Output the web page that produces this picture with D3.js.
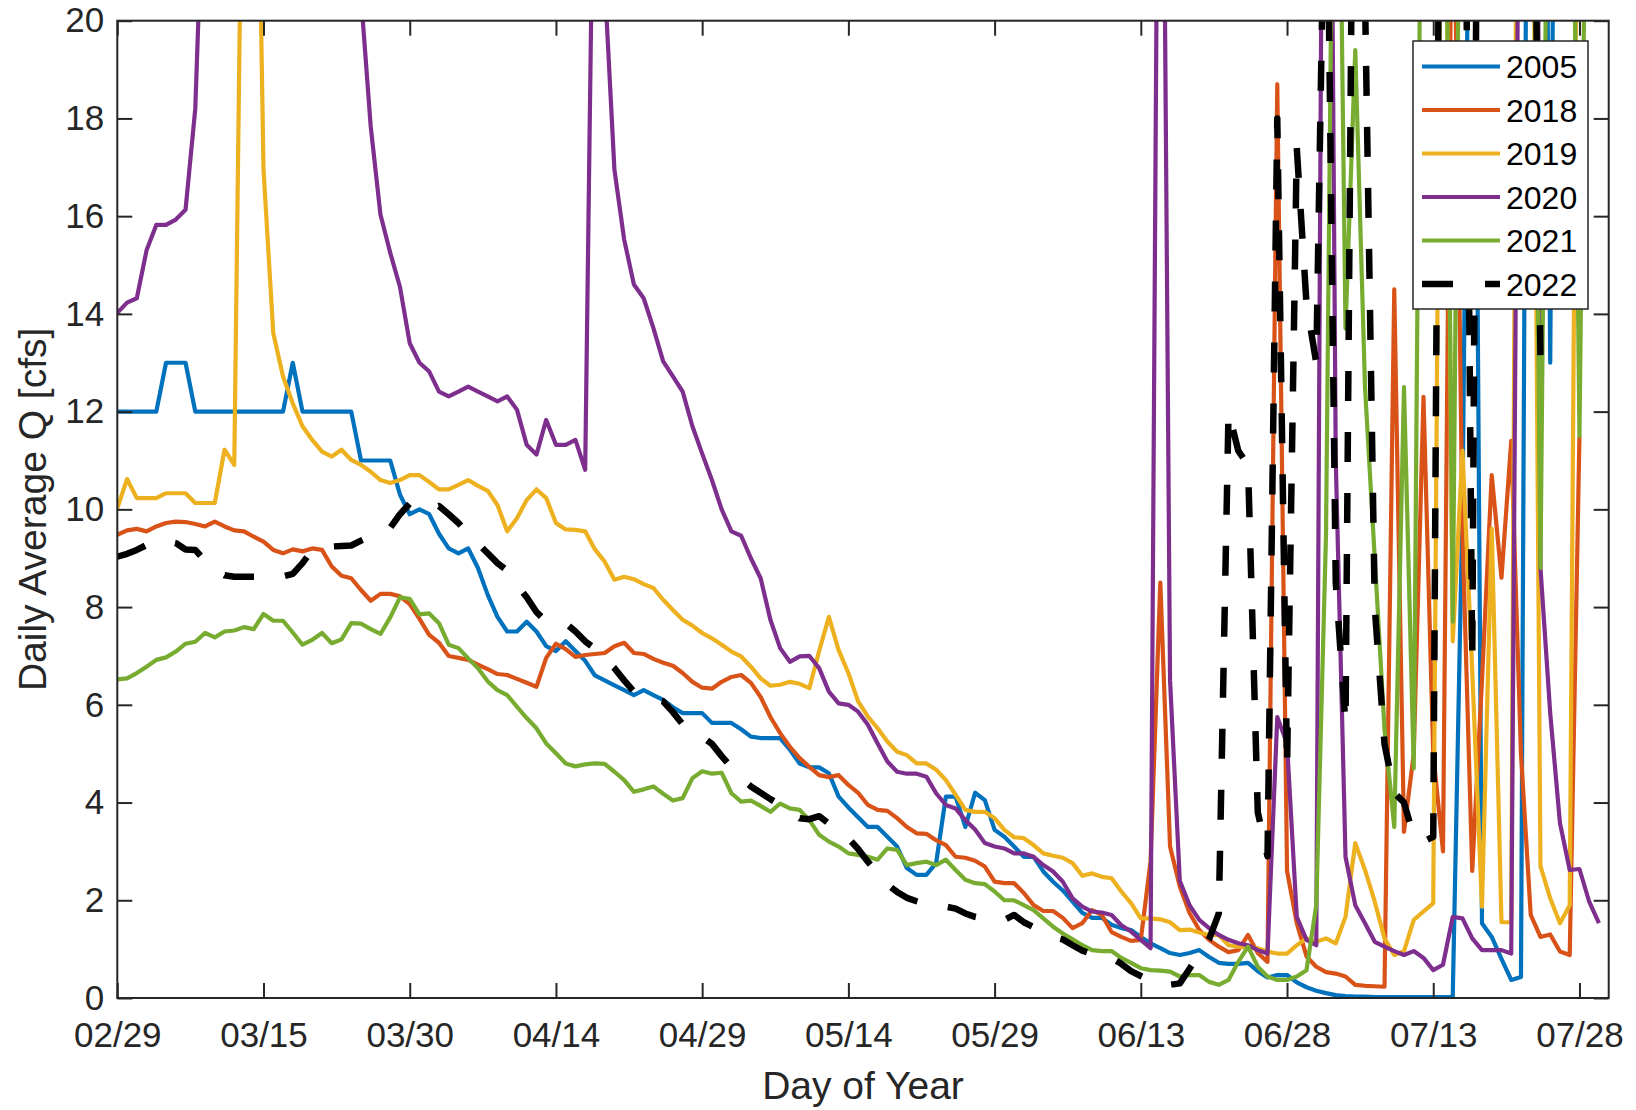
<!DOCTYPE html>
<html>
<head>
<meta charset="utf-8">
<script src="https://cdn.jsdelivr.net/npm/d3@7"></script>
<style>
body { margin: 0; background: #fff; }
text { font-family: "Liberation Sans", Arial, Helvetica, sans-serif; fill: #262626; }
</style>
</head>
<body>
<svg id="chart"></svg>
<script>
// chart data, one value per day starting 02/29
var xTickDays = [0, 15, 30, 45, 60, 75, 90, 105, 120, 135, 150];
var xTickLabels = ["02/29", "03/15", "03/30", "04/14", "04/29", "05/14", "05/29", "06/13", "06/28", "07/13", "07/28"];
var yTicks = [0, 2, 4, 6, 8, 10, 12, 14, 16, 18, 20];
var years = ["2005", "2018", "2019", "2020", "2021", "2022"];

var q2005 = [12,12,12,12,12,13,13,13,12,12,
	12,12,12,12,12,12,12,12,13,12,
	12,12,12,12,12,11,11,11,11,10.3,
	9.9,10.0,9.9,9.5,9.2,9.1,9.2,8.8,8.25,7.8,
	7.5,7.5,7.7,7.5,7.2,7.1,7.3,7.1,6.9,6.6,
	6.5,6.4,6.3,6.2,6.3,6.2,6.1,5.95,5.83,5.83,
	5.83,5.63,5.63,5.63,5.5,5.35,5.32,5.32,5.32,5.08,
	4.8,4.72,4.72,4.6,4.12,3.9,3.7,3.5,3.5,3.3,
	3.1,2.66,2.52,2.52,2.76,4.12,4.12,3.5,4.2,4.05,
	3.44,3.3,3.1,2.89,2.89,2.59,2.38,2.2,1.97,1.74,
	1.64,1.64,1.5,1.43,1.39,1.25,1.12,1.02,0.92,0.88,
	0.92,0.98,0.84,0.72,0.7,0.7,0.72,0.55,0.42,0.47,
	0.47,0.32,0.22,0.15,0.1,0.06,0.04,0.03,0.03,0.02,
	0.02,0.02,0.02,0.02,0.02,0.02,0.02,0.02,10,30,
	1.53,1.25,0.8,0.37,0.43,40,40,13,40,40,
	40,40,40];

var q2018 = [9.48,9.57,9.6,9.55,9.65,9.72,9.75,9.74,9.7,9.65,
	9.75,9.65,9.57,9.55,9.44,9.34,9.17,9.1,9.18,9.14,
	9.2,9.17,8.83,8.64,8.59,8.35,8.13,8.27,8.27,8.22,
	8.06,7.76,7.43,7.27,7.0,6.96,6.92,6.82,6.73,6.63,
	6.61,6.53,6.45,6.37,6.96,7.25,7.14,6.98,7.02,7.04,
	7.06,7.2,7.27,7.06,7.04,6.94,6.86,6.8,6.65,6.47,
	6.35,6.33,6.47,6.57,6.61,6.45,6.16,5.75,5.42,5.14,
	4.91,4.73,4.56,4.52,4.56,4.36,4.2,3.95,3.85,3.83,
	3.68,3.5,3.37,3.36,3.23,3.13,2.89,2.87,2.81,2.69,
	2.38,2.35,2.35,2.15,1.9,1.78,1.78,1.64,1.43,1.53,
	1.8,1.7,1.35,1.25,1.17,1.19,2.8,8.5,3.1,2.28,
	1.74,1.39,1.19,1.05,0.94,0.98,1.29,0.92,0.74,18.7,
	2.6,1.53,0.85,0.64,0.53,0.5,0.44,0.27,0.25,0.24,
	0.23,14.5,3.4,5.0,12.3,5.0,3.0,25,9.5,2.6,
	6.5,10.7,8.6,11.4,5.0,1.7,1.25,1.3,0.95,0.88,
	11.5];

var q2019 = [10.02,10.62,10.23,10.23,10.23,10.33,10.33,10.33,10.13,10.13,
	10.13,11.22,10.91,27,29,16.95,13.61,12.72,12.17,11.7,
	11.42,11.18,11.08,11.22,11.01,10.91,10.77,10.6,10.54,10.6,
	10.7,10.7,10.56,10.41,10.41,10.5,10.6,10.48,10.38,10.09,
	9.55,9.82,10.19,10.41,10.23,9.72,9.59,9.58,9.55,9.18,
	8.93,8.56,8.62,8.57,8.47,8.39,8.15,7.94,7.74,7.62,
	7.47,7.36,7.23,7.09,6.99,6.78,6.54,6.39,6.41,6.47,
	6.43,6.34,7.1,7.8,7.12,6.65,6.07,5.76,5.52,5.25,
	5.04,4.97,4.8,4.8,4.67,4.46,4.16,3.85,3.81,3.81,
	3.68,3.44,3.29,3.27,3.13,2.96,2.91,2.87,2.76,2.5,
	2.55,2.48,2.45,2.18,1.94,1.63,1.63,1.61,1.55,1.39,
	1.4,1.34,1.29,1.29,1.08,1.05,1.03,1.02,0.95,0.91,
	0.91,1.08,1.22,1.15,1.22,1.12,1.66,3.17,2.62,1.97,
	1.22,0.88,0.96,1.6,1.77,1.94,30,7.3,11.2,6.7,
	1.87,9.6,1.55,1.55,40,30,2.7,2.04,1.53,1.9,
	30];

var q2020 = [14.02,14.23,14.32,15.3,15.82,15.82,15.93,16.13,18.2,24,
	30,30,30,30,30,30,30,30,30,30,
	30,30,30,30,30,20.5,17.83,16.03,15.25,14.55,
	13.4,13.0,12.82,12.41,12.31,12.41,12.51,12.41,12.31,12.21,
	12.31,12.04,11.32,11.12,11.83,11.32,11.32,11.42,10.81,26,
	20.8,16.95,15.52,14.6,14.32,13.71,13.03,12.72,12.41,11.7,
	11.14,10.6,10.0,9.55,9.46,9.0,8.59,7.74,7.16,6.88,
	6.99,7.0,6.75,6.27,6.03,6.0,5.86,5.59,5.21,4.84,
	4.63,4.59,4.59,4.53,4.19,3.95,3.88,3.64,3.45,3.17,
	3.1,3.06,2.96,2.96,2.89,2.72,2.59,2.38,2.04,1.87,
	1.77,1.75,1.7,1.49,1.36,1.19,1.02,32.7,6.5,2.4,
	1.9,1.6,1.43,1.29,1.19,1.12,1.08,0.98,0.91,5.75,
	5.21,1.66,1.19,1.08,39,11,2.89,1.9,1.53,1.15,
	1.05,0.96,0.88,0.96,0.82,0.57,0.68,1.66,1.63,1.22,
	0.98,0.98,0.98,0.91,30,60,8.8,5.83,3.58,2.62,
	2.64,1.97,1.53];

var q2021 = [6.52,6.54,6.65,6.78,6.92,6.97,7.09,7.25,7.29,7.47,
	7.38,7.5,7.52,7.59,7.55,7.86,7.72,7.72,7.48,7.23,
	7.33,7.47,7.26,7.34,7.67,7.66,7.55,7.45,7.79,8.2,
	8.17,7.85,7.87,7.67,7.23,7.16,6.95,6.75,6.48,6.3,
	6.2,5.96,5.73,5.52,5.21,5.01,4.8,4.74,4.78,4.8,
	4.79,4.63,4.46,4.22,4.27,4.33,4.18,4.04,4.09,4.5,
	4.64,4.59,4.61,4.19,4.02,4.04,3.93,3.81,3.98,3.88,
	3.85,3.64,3.34,3.2,3.1,2.96,2.93,2.89,2.83,3.06,
	3.03,2.72,2.76,2.79,2.72,2.83,2.62,2.42,2.35,2.33,
	2.18,2.0,2.0,1.9,1.8,1.63,1.46,1.32,1.2,1.08,
	0.98,0.96,0.96,0.82,0.72,0.61,0.57,0.56,0.54,0.44,
	0.47,0.47,0.33,0.27,0.37,0.74,1.05,0.64,0.44,0.37,
	0.37,0.44,0.57,1.9,9.5,30,13.7,19.4,12.5,9.0,
	5.5,3.5,12.5,4.7,30,30,30,7.7,30,30,
	30,30,30,30,30,30,8.8,30,30,30,
	11.5,30,30];

var q2022 = [9.03,9.09,9.17,9.27,9.35,9.35,9.31,9.18,9.17,8.95,
	8.75,8.65,8.62,8.62,8.62,8.62,8.62,8.63,8.68,8.9,
	9.17,9.22,9.24,9.25,9.26,9.36,9.45,9.55,9.62,9.9,
	10.12,10.1,10.0,10.07,9.9,9.72,9.5,9.3,9.1,8.9,
	8.75,8.45,8.2,7.9,7.7,7.68,7.67,7.5,7.3,7.15,
	6.95,6.75,6.5,6.27,6.2,6.12,6.07,5.85,5.6,5.45,
	5.35,5.2,4.95,4.72,4.5,4.33,4.2,4.07,3.95,3.83,
	3.68,3.66,3.72,3.57,3.42,3.27,3.05,2.79,2.55,2.32,
	2.17,2.05,1.98,1.92,1.88,1.87,1.83,1.73,1.66,1.62,
	1.6,1.6,1.7,1.55,1.45,1.35,1.25,1.2,1.08,0.97,
	0.9,0.86,0.82,0.7,0.55,0.45,0.35,0.27,0.27,0.3,
	0.6,0.9,1.2,1.73,12.0,11.2,10.9,3.8,2.9,18.0,
	4.7,17.4,14.2,13.0,25,8.5,5.6,30,20.5,8.0,
	5.2,4.2,4.0,3.3,3.2,3.3,35,22,30,6.9,
	40,30,30,30,30,30,13.1];

var seriesList = [q2005, q2018, q2019, q2020, q2021, q2022];
var colors = ["#0072BD", "#D95319", "#EDB120", "#7E2F8E", "#77AC30", "#000000"];

// canvas config
var width = 1636, height = 1110;
var plot = {left: 117.3, right: 1608.7, top: 20.7, bottom: 998};
var axisColor = "#262626";
var tickSize = 15;

var svg = d3.select("#chart")
	.attr("width", width)
	.attr("height", height);

var xScale = d3.scaleLinear().domain([0, 153]).range([plot.left, plot.right]);
var yScale = d3.scaleLinear().domain([0, 20]).range([plot.bottom, plot.top]);

svg.append("defs").append("clipPath")
	.attr("id", "plotClip")
	.append("rect")
	.attr("x", plot.left)
	.attr("y", plot.top)
	.attr("width", plot.right - plot.left)
	.attr("height", plot.bottom - plot.top);

//lines
var lineFunc = d3.line()
	.x(function(d, i) { return xScale(i); })
	.y(function(d) { return yScale(d); });

var lines = svg.append("g").attr("clip-path", "url(#plotClip)");
seriesList.forEach(function(values, k) {
	lines.append("path")
		.attr("d", lineFunc(values))
		.attr("fill", "none")
		.attr("stroke", colors[k])
		.attr("stroke-width", k == 5 ? 6.5 : 4.2)
		.attr("stroke-linejoin", "round")
		.attr("stroke-dasharray", k == 5 ? "30,31" : null);
});

//axes: ticks inside on all four sides (box on)
var xAxisB = d3.axisBottom(xScale).tickValues(xTickDays)
	.tickFormat(function(d, i) { return xTickLabels[i]; })
	.tickSizeInner(-tickSize).tickSizeOuter(0).tickPadding(24);
var xAxisT = d3.axisTop(xScale).tickValues(xTickDays).tickFormat("")
	.tickSizeInner(-tickSize).tickSizeOuter(0);
var yAxisL = d3.axisLeft(yScale).tickValues(yTicks)
	.tickSizeInner(-tickSize).tickSizeOuter(0).tickPadding(13);
var yAxisR = d3.axisRight(yScale).tickValues(yTicks).tickFormat("")
	.tickSizeInner(-tickSize).tickSizeOuter(0);

function styleAxis(g) {
	g.select(".domain").remove();
	g.selectAll(".tick line").attr("stroke", axisColor).attr("stroke-width", 2);
	g.selectAll(".tick text")
		.attr("fill", axisColor)
		.style("font-size", "35px")
		.style("font-family", "'Liberation Sans', Arial, Helvetica, sans-serif");
}

svg.append("g").attr("transform", "translate(0," + plot.bottom + ")").call(xAxisB).call(styleAxis);
svg.append("g").attr("transform", "translate(0," + plot.top + ")").call(xAxisT).call(styleAxis);
svg.append("g").attr("transform", "translate(" + plot.left + ",0)").call(yAxisL).call(styleAxis);
svg.append("g").attr("transform", "translate(" + plot.right + ",0)").call(yAxisR).call(styleAxis);

svg.append("rect")
	.attr("x", plot.left)
	.attr("y", plot.top)
	.attr("width", plot.right - plot.left)
	.attr("height", plot.bottom - plot.top)
	.attr("fill", "none")
	.attr("stroke", axisColor)
	.attr("stroke-width", 2);

//axis labels
svg.append("text")
	.attr("x", (plot.left + plot.right) / 2)
	.attr("y", 1099)
	.attr("text-anchor", "middle")
	.style("font-size", "39px")
	.text("Day of Year");

svg.append("text")
	.attr("transform", "translate(45.5," + ((plot.top + plot.bottom) / 2) + ") rotate(-90)")
	.attr("text-anchor", "middle")
	.style("font-size", "39px")
	.text("Daily Average Q [cfs]");

//legend
var legend = svg.append("g");
legend.append("rect")
	.attr("x", 1413)
	.attr("y", 41)
	.attr("width", 175)
	.attr("height", 268)
	.attr("fill", "#fff")
	.attr("stroke", axisColor)
	.attr("stroke-width", 1.5);

years.forEach(function(name, k) {
	var cy = 66.5 + k * 43.5;
	legend.append("line")
		.attr("x1", 1422).attr("x2", 1500)
		.attr("y1", cy).attr("y2", cy)
		.attr("stroke", colors[k])
		.attr("stroke-width", k == 5 ? 6.5 : 4.2)
		.attr("stroke-dasharray", k == 5 ? "31,32" : null);
	legend.append("text")
		.attr("x", 1506)
		.attr("y", cy + 11.5)
		.style("font-size", "32px")
		.style("fill", "#000")
		.text(name);
});
</script>
</body>
</html>
